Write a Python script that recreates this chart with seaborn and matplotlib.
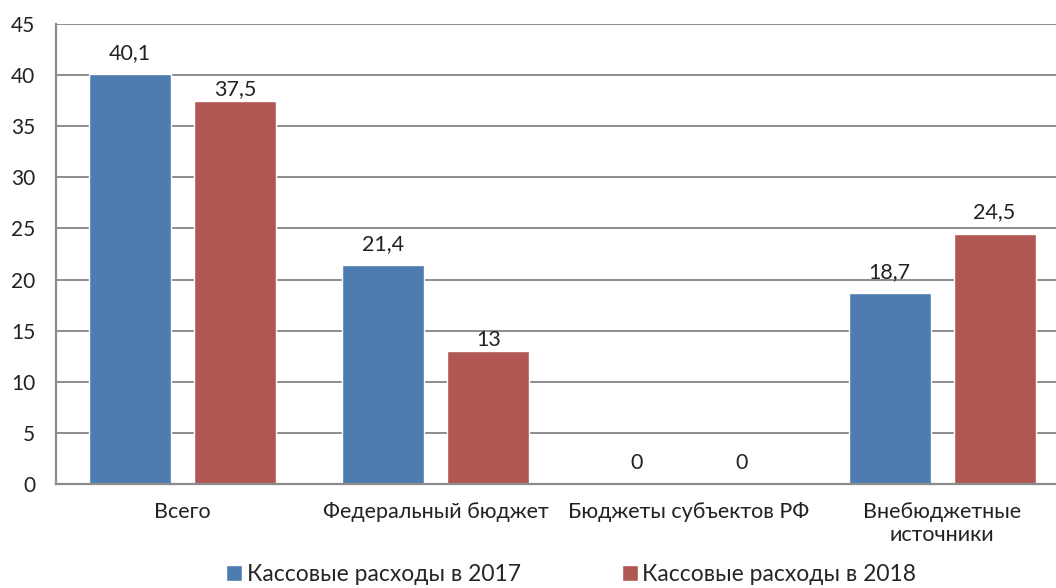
import matplotlib
matplotlib.use("Agg")
import matplotlib.pyplot as plt
import pandas as pd
import seaborn as sns

# Данные
categories = ["Всего", "Федеральный бюджет", "Бюджеты субъектов РФ", "Внебюджетные\nисточники"]
series_names = ["Кассовые расходы в 2017", "Кассовые расходы в 2018"]
values_2017 = [40.1, 21.4, 0, 18.7]
values_2018 = [37.5, 13, 0, 24.5]
labels_2017 = ["40,1", "21,4", "0", "18,7"]
labels_2018 = ["37,5", "13", "0", "24,5"]
y_ticks = [0, 5, 10, 15, 20, 25, 30, 35, 40, 45]

colors = {series_names[0]: "#4E7CB1", series_names[1]: "#B05753"}

sns.set_theme(style="white")
plt.rcParams["font.family"] = ["Lato", "DejaVu Sans"]

df = pd.DataFrame({
    "Категория": categories * 2,
    "Серия": [series_names[0]] * 4 + [series_names[1]] * 4,
    "Значение": values_2017 + values_2018,
})

fig = plt.figure(figsize=(10.56, 5.88), dpi=100)
ax = fig.add_axes([0.053, 0.177, 0.947, 0.782])

sns.barplot(data=df, x="Категория", y="Значение", hue="Серия", palette=colors,
            width=0.83, gap=0.22, saturation=1, ax=ax, legend=True)

ax.set_ylim(0, 45)
ax.set_xlim(-0.5, 3.45)
ax.set_yticks(y_ticks)
ax.yaxis.grid(True, color="#8C8C8C", linewidth=1.4)
ax.set_axisbelow(True)
ax.set_xlabel("")
ax.set_ylabel("")
ax.tick_params(axis="y", labelsize=15, colors="#222222", length=0, pad=15)
ax.tick_params(axis="x", labelsize=15.5, colors="#222222", length=0, pad=13)

for side in ["top", "right"]:
    ax.spines[side].set_visible(False)
for side in ["left", "bottom"]:
    ax.spines[side].set_color("#8C8C8C")
    ax.spines[side].set_linewidth(1.6)

# подписи значений
pads = [[8, 8, 8, 8], [1, 1, 8, 8]]
for cont, labs, pd_list in zip(ax.containers, [labels_2017, labels_2018], pads):
    for bar, lab, p in zip(cont, labs, pd_list):
        ax.annotate(lab, (bar.get_x() + bar.get_width() / 2, bar.get_height()),
                    xytext=(0, p), textcoords="offset points",
                    ha="center", va="bottom", fontsize=15.5, color="#222222")

handles, lbls = ax.get_legend_handles_labels()
ax.legend_.remove()
fig.legend(handles, lbls, loc="lower center", bbox_to_anchor=(0.541, -0.03), ncol=2,
           frameon=False, fontsize=16.5, handlelength=0.7, handleheight=0.7,
           handletextpad=0.2, columnspacing=4.4)

fig.savefig("out.png", dpi=100)
